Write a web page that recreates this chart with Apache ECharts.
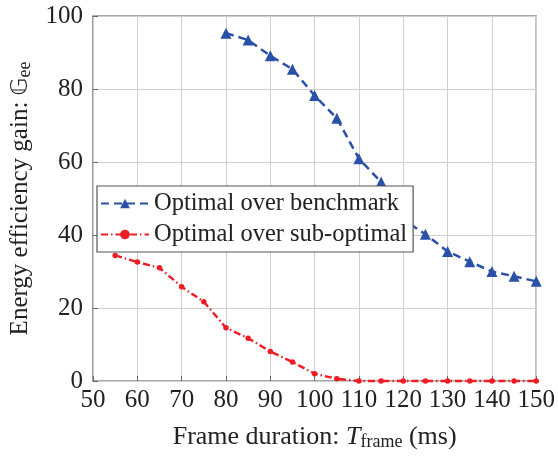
<!DOCTYPE html>
<html>
<head>
<meta charset="utf-8">
<script src="https://cdn.jsdelivr.net/npm/echarts@6/dist/echarts.min.js"></script>
<style>
  html, body { margin: 0; padding: 0; background: #fff; }
  #chart { width: 558px; height: 456px; }
</style>
</head>
<body>
<div id="chart"></div>
<script>
"use strict";

// Frame duration (ms) and the two gain curves.
const benchX = [80, 85, 90, 95, 100, 105, 110, 115, 120, 125, 130, 135, 140, 145, 150];
const benchY = [95.3, 93.4, 89.1, 85.4, 78.2, 72.0, 60.9, 54.5, 44.2, 40.2, 35.5, 32.7, 30.0, 28.7, 27.3];
const subX = [55, 60, 65, 70, 75, 80, 85, 90, 95, 100, 105, 110, 115, 120, 125, 130, 135, 140, 145, 150];
const subY = [34.4, 32.6, 31.0, 25.8, 21.7, 14.6, 11.7, 8.1, 5.2, 2.0, 0.6, 0, 0, 0, 0, 0, 0, 0, 0, 0];
const names = ["Optimal over benchmark", "Optimal over sub-optimal"];

const FONT = "'Liberation Serif', 'DejaVu Serif', serif";
const INK = "#222";
const BLUE = "#2b50a8", RED = "#ee1c24";

const zip = (xs, ys) => xs.map((x, i) => [x, ys[i]]);

const chart = echarts.init(document.getElementById("chart"), null, { renderer: "canvas" });
chart.setOption({
  animation: false,
  backgroundColor: "#fff",
  textStyle: { fontFamily: FONT, color: INK },
  grid: {
    left: 93, right: 21, top: 16, bottom: 73,
    show: true, borderColor: "#555", borderWidth: 1.2, backgroundColor: "transparent",
  },
  xAxis: {
    type: "value", min: 50, max: 150, interval: 10,
    name: "Frame duration: {it|T}{sub|frame} (ms)",
    nameLocation: "middle", nameGap: 42,
    nameTextStyle: {
      fontFamily: FONT, fontSize: 26, color: INK,
      rich: {
        it: { fontFamily: FONT, fontSize: 26, fontStyle: "italic", color: INK },
        sub: { fontFamily: FONT, fontSize: 18, color: INK, verticalAlign: "bottom", padding: [10, 0, 0, 0] },
      },
    },
    axisLine: { show: false },
    axisTick: { show: true, inside: true, length: 5, lineStyle: { color: "#666" } },
    axisLabel: { fontFamily: FONT, fontSize: 25, color: INK, margin: 7 },
    splitLine: { show: true, lineStyle: { color: "#cfcfcf", width: 1 } },
  },
  yAxis: {
    type: "value", min: 0, max: 100, interval: 20,
    name: "Energy efficiency gain: {bb|\u{1D53E}}{sub|ee}",
    nameLocation: "middle", nameGap: 57, nameRotate: 90,
    nameTextStyle: {
      fontFamily: FONT, fontSize: 25, color: INK,
      rich: {
        bb: { fontFamily: "'DejaVu Sans', sans-serif", fontSize: 23, color: INK },
        sub: { fontFamily: FONT, fontSize: 18, color: INK, verticalAlign: "bottom", padding: [10, 0, 0, 0] },
      },
    },
    axisLine: { show: false },
    axisTick: { show: true, inside: true, length: 5, lineStyle: { color: "#666" } },
    axisLabel: { fontFamily: FONT, fontSize: 25, color: INK, margin: 10 },
    splitLine: { show: true, lineStyle: { color: "#cfcfcf", width: 1 } },
  },
  legend: {
    orient: "vertical",
    left: 97, top: 186,
    backgroundColor: "#fff",
    borderColor: "#555", borderWidth: 1.2, borderRadius: 0,
    padding: [5, 6, 5, 3],
    itemGap: 6,
    itemWidth: 48, itemHeight: 12,
    textStyle: { fontFamily: FONT, fontSize: 24.5, color: INK },
    data: names,
  },
  series: [
    {
      name: names[0], type: "line", data: zip(benchX, benchY),
      symbol: "triangle", symbolSize: 11,
      lineStyle: { color: BLUE, width: 2.5, type: [8, 5] },
      itemStyle: { color: BLUE },
      clip: false,
    },
    {
      name: names[1], type: "line", data: zip(subX, subY),
      symbol: "circle", symbolSize: 5.5,
      lineStyle: { color: RED, width: 2.4, type: [7, 3, 1.5, 3] },
      itemStyle: { color: RED },
      clip: false,
    },
  ],
});
</script>
</body>
</html>
